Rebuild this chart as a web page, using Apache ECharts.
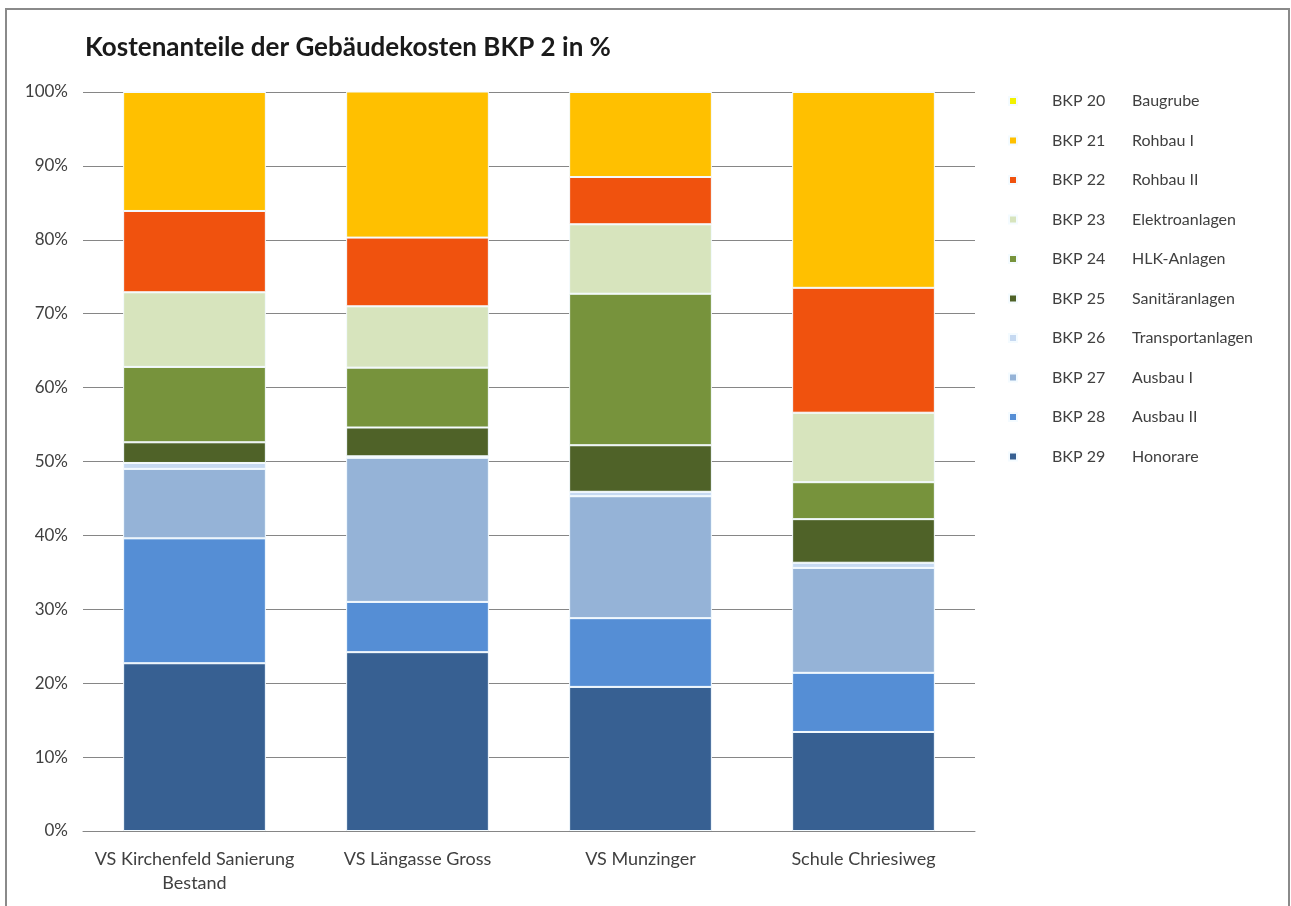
<!DOCTYPE html>
<html>
<head>
<meta charset="utf-8">
<script src="https://cdn.jsdelivr.net/npm/echarts@6/dist/echarts.min.js"></script>
<style>
  html, body { margin: 0; padding: 0; background: #fff; }
  #frame {
    position: absolute; left: 5px; top: 8px; width: 1285px; height: 920px;
    border: 2px solid #8a8a8a; box-sizing: border-box;
  }
  #chart { position: absolute; left: 0; top: 0; width: 1291px; height: 906px; }
</style>
</head>
<body>
<div id="frame"></div>
<div id="chart"></div>
<script>
  // Kategorien (Objekte)
  var objekte = ['VS Kirchenfeld Sanierung\nBestand', 'VS Längasse Gross', 'VS Munzinger', 'Schule Chriesiweg'];
  var yTicks = ['0%', '10%', '20%', '30%', '40%', '50%', '60%', '70%', '80%', '90%', '100%'];

  // BKP-Positionen (Legende oben -> unten)
  var bkpCodes = ['BKP 20', 'BKP 21', 'BKP 22', 'BKP 23', 'BKP 24', 'BKP 25', 'BKP 26', 'BKP 27', 'BKP 28', 'BKP 29'];
  var bkpNamen = ['Baugrube', 'Rohbau I', 'Rohbau II', 'Elektroanlagen', 'HLK-Anlagen', 'Sanitäranlagen', 'Transportanlagen', 'Ausbau I', 'Ausbau II', 'Honorare'];
  var farben = ['#f2f200', '#ffc000', '#f0520e', '#d7e4bd', '#77933c', '#4f6228', '#c6d9f1', '#95b3d7', '#558ed5', '#376092'];

  // Anteile in % pro BKP (Reihenfolge wie objekte)
  var bkp20 = [0, 0, 0, 0];
  var bkp21 = [16.1, 19.8, 11.5, 26.5];
  var bkp22 = [11.0, 9.3, 6.4, 16.9];
  var bkp23 = [10.1, 8.3, 9.4, 9.4];
  var bkp24 = [10.2, 8.1, 20.5, 5.0];
  var bkp25 = [2.8, 3.9, 6.3, 5.9];
  var bkp26 = [0.8, 0.2, 0.6, 0.7];
  var bkp27 = [9.4, 19.5, 16.5, 14.2];
  var bkp28 = [16.9, 6.8, 9.3, 8.0];
  var bkp29 = [22.7, 24.2, 19.5, 13.4];
  var werte = [bkp20, bkp21, bkp22, bkp23, bkp24, bkp25, bkp26, bkp27, bkp28, bkp29];

  var myChart = echarts.init(document.getElementById('chart'));

  // Stapel von unten (BKP 29) nach oben (BKP 20)
  var series = [];
  for (var i = werte.length - 1; i >= 0; i--) {
    series.push({
      name: bkpCodes[i] + ' ' + bkpNamen[i],
      type: 'bar',
      stack: 'total',
      barWidth: '64%',
      data: werte[i],
      itemStyle: { color: farben[i], borderColor: '#f4fbff', borderWidth: 1 }
    });
  }

  var option = {
    animation: false,
    textStyle: { fontFamily: 'Lato' },
    title: {
      text: 'Kostenanteile der Gebäudekosten BKP 2 in %',
      left: 80, top: 30,
      textStyle: { fontFamily: 'Lato', fontWeight: 'bold', fontSize: 26, color: '#1a1a1a' }
    },
    legend: {
      orient: 'vertical',
      left: 1003, top: 88,
      itemWidth: 8, itemHeight: 8, itemGap: 23.5,
      icon: 'rect',
      data: bkpCodes.map(function (c, i) { return c + ' ' + bkpNamen[i]; }),
      formatter: function (name) {
        var idx = name.indexOf(' ', 4);
        return '{c|' + name.slice(0, idx) + '}{n|' + name.slice(idx + 1) + '}';
      },
      textStyle: {
        rich: {
          c: { fontFamily: 'Lato', fontSize: 16, color: '#404040', width: 80, padding: [0, 0, 0, 30] },
          n: { fontFamily: 'Lato', fontSize: 16, color: '#404040' }
        }
      }
    },
    grid: { left: 83, right: 316, top: 92, bottom: 75 },
    xAxis: {
      type: 'category',
      data: objekte,
      axisLine: { lineStyle: { color: '#868686', width: 1 } },
      axisTick: { show: false },
      axisLabel: { fontFamily: 'Lato', fontSize: 18, color: '#404040', margin: 16, lineHeight: 24, interval: 0 }
    },
    yAxis: {
      type: 'value',
      min: 0, max: 100, interval: 10,
      axisLine: { show: false },
      axisTick: { show: false },
      splitLine: { lineStyle: { color: '#868686', width: 1 } },
      axisLabel: {
        fontFamily: 'Lato', fontSize: 17, color: '#404040', margin: 15,
        formatter: function (v) { return yTicks[Math.round(v / 10)]; }
      }
    },
    series: series
  };

  myChart.setOption(option);
</script>
</body>
</html>
